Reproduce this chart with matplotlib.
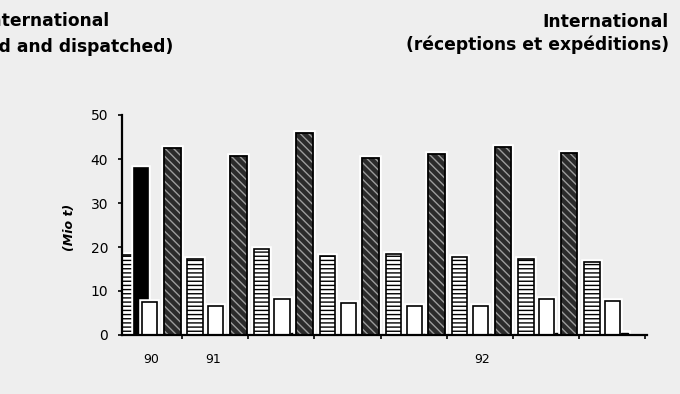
import numpy as np
import matplotlib
matplotlib.use("Agg")
import matplotlib.pyplot as plt
from matplotlib.ticker import FixedLocator

# data (Mio t), 8 periods
periods = np.arange(8)
hatched = [18.2, 17.2, 19.5, 18.0, 18.4, 17.8, 17.2, 16.7]
black = [37.9, 0, 0, 0, 0, 0, 0, 0]
white = [7.6, 6.6, 8.1, 7.3, 6.6, 6.6, 8.1, 7.7]
dark = [42.4, 40.7, 45.8, 40.2, 41.1, 42.8, 41.4, 0]
small = [0, 0, 0.4, 0.3, 0.3, 0.3, 0.4, 0.4]

year_labels = ['90', '91', '92']
year_pos = [0.53, 1.47, 5.53]

bg = '#eeeeee'
plt.rcParams['hatch.linewidth'] = 1.0
plt.rcParams['font.family'] = 'DejaVu Sans'

fig = plt.figure(figsize=(6.8, 3.94), dpi=100, facecolor=bg)
ax = fig.add_axes([122/680, 1 - 335/394, 525/680, 220/394])
ax.set_facecolor(bg)


def draw(offset, width, values, z, **kw):
    x = periods + offset
    v = np.array(values)
    m = v > 0
    # white halo like the scanned original
    ax.bar(x[m], v[m], width, align='center', color='white',
           edgecolor='white', linewidth=4, zorder=z - 0.5)
    return ax.bar(x[m], v[m], width, align='center', zorder=z, **kw)


draw(0.197, 0.235, hatched, 2, facecolor='white', edgecolor='black',
     hatch='----', linewidth=1.2)
draw(0.38, 0.21, black, 3, facecolor='black', edgecolor='black', linewidth=1.2)
draw(0.51, 0.23, white, 4, facecolor='white', edgecolor='black', linewidth=1.2)
draw(0.69, 0.10, small, 4, facecolor='black', edgecolor='black', linewidth=1)
# dark textured bars: hatch drawn in grey, outline on top
draw(0.85, 0.25, dark, 5, facecolor='#2b2b2b', edgecolor='#9c9c9c',
     hatch='\\\\\\\\', linewidth=0)
dv = np.array(dark)
ax.bar((periods + 0.85)[dv > 0], dv[dv > 0], 0.25, fill=False,
       edgecolor='black', linewidth=1.3, zorder=6)

ax.set_xlim(0.09, 8.03)
ax.set_ylim(0, 50)
ax.set_yticks(range(0, 51, 10))
ax.tick_params(axis='y', direction='out', length=3, width=1.2, pad=7,
               labelsize=10)

ax.xaxis.set_major_locator(FixedLocator(np.arange(1, 9)))
ax.xaxis.set_minor_locator(FixedLocator(year_pos))
ax.set_xticklabels([''] * 8)
ax.set_xticklabels(year_labels, minor=True)
ax.tick_params(axis='x', which='major', direction='out', length=3, width=1.2)
ax.tick_params(axis='x', which='minor', length=0, pad=13, labelsize=9)

for s in ['top', 'right']:
    ax.spines[s].set_visible(False)
for s in ['left', 'bottom']:
    ax.spines[s].set_linewidth(1.6)
    ax.spines[s].set_zorder(7)

ax.set_ylabel('(Mio t)', fontsize=9, fontstyle='italic', fontweight='bold')
ax.yaxis.set_label_coords(-0.088, 0.49)

fig.text(110/680, 1 - 26/394, 'International', ha='right', va='baseline',
         fontsize=12.3, fontweight='bold')
fig.text(173/680, 1 - 52/394, '(received and dispatched)', ha='right',
         va='baseline', fontsize=12.3, fontweight='bold')
fig.text(669/680, 1 - 27/394, 'International', ha='right', va='baseline',
         fontsize=12.3, fontweight='bold')
fig.text(669/680, 1 - 50/394, '(réceptions et expéditions)', ha='right',
         va='baseline', fontsize=12.3, fontweight='bold')

fig.savefig('out.png', dpi=100, facecolor=bg)
